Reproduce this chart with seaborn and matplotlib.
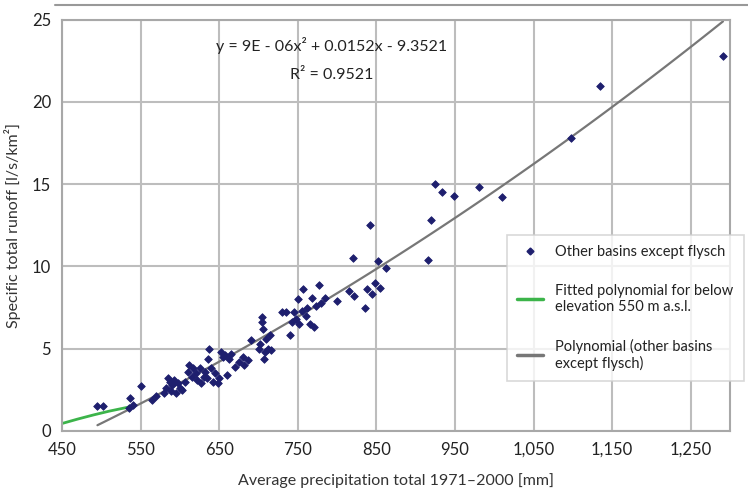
import numpy as np
import pandas as pd
import matplotlib.pyplot as plt
import seaborn as sns
from matplotlib.lines import Line2D

# Data

precip = [495, 502, 535, 537, 540, 550, 565, 570, 580, 582, 585, 587, 588, 590,
          592, 595, 597, 600, 603, 607, 610, 612, 615, 617, 620, 622, 625, 627,
          630, 632, 635, 636, 637, 640, 642, 645, 648, 650, 652, 655, 657, 660,
          662, 665, 670, 675, 680, 682, 686, 690, 700, 702, 704, 705, 706, 707,
          708, 710, 712, 715, 716, 730, 735, 740, 742, 745, 748, 750, 752, 755,
          757, 760, 762, 765, 768, 770, 773, 777, 780, 785, 800, 815, 820, 822,
          835, 838, 842, 845, 848, 852, 855, 862, 916, 919, 924, 933, 949, 980,
          1010, 1098, 1134, 1291]
runoff = [1.5, 1.5, 1.4, 2.0, 1.6, 2.7, 1.9, 2.1, 2.3, 2.6, 3.2, 3.0, 2.4, 2.8,
          3.1, 2.3, 2.9, 2.6, 2.5, 3.0, 3.6, 4.0, 3.3, 3.8, 3.5, 3.1, 3.8, 2.9,
          3.3, 3.6, 3.2, 4.4, 5.0, 3.8, 3.0, 3.5, 2.9, 3.2, 4.8, 4.5, 4.6, 3.4,
          4.4, 4.7, 3.9, 4.2, 4.5, 4.0, 4.3, 5.5, 5.0, 5.3, 6.6, 6.9, 6.2, 4.4,
          4.8, 5.6, 5.0, 5.8, 4.9, 7.2, 7.2, 5.8, 6.6, 7.2, 6.8, 8.0, 6.5, 7.3,
          8.6, 7.0, 7.5, 6.5, 8.1, 6.3, 7.6, 8.9, 7.8, 8.1, 7.9, 8.5, 10.5, 8.2,
          7.5, 8.6, 12.5, 8.3, 9.0, 10.3, 8.7, 9.9, 10.4, 12.8, 15.0, 14.5, 14.3, 14.8,
          14.2, 17.8, 21.0, 22.8]

# green curve (low elevation fit)
low_x = [450, 470, 490, 510, 535]
low_y = [0.45, 0.72, 0.97, 1.2, 1.45]

df = pd.DataFrame({"precip": precip, "runoff": runoff})
low = pd.DataFrame({"x": low_x, "y": low_y})

sns.set_style("white")
plt.rcParams["font.family"] = ["Lato", "DejaVu Sans"]

navy = "#1e1f6e"
green = "#3cb44a"
gray = "#777777"
gridc = "#bdbdbd"

fig = plt.figure(figsize=(7.48, 4.93), dpi=100)
ax = fig.add_axes([0.083, 0.126, 0.893, 0.834])

sns.lineplot(data=low, x="x", y="y", color=green, linewidth=2, ax=ax)
sns.regplot(data=df, x="precip", y="runoff", order=2, ci=None, scatter=False,
            line_kws={"color": gray, "linewidth": 1.6}, ax=ax)
sns.scatterplot(data=df, x="precip", y="runoff", color=navy, marker="D",
                s=15, edgecolor=navy, linewidth=0.6, ax=ax, zorder=3)

ax.set_xlim(450, 1300)
ax.set_ylim(0, 25)
ax.set_xticks([450, 550, 650, 750, 850, 950, 1050, 1150, 1250])
ax.set_xticklabels(["450", "550", "650", "750", "850", "950", "1,050", "1,150", "1,250"])
ax.set_yticks([0, 5, 10, 15, 20, 25])
ax.grid(True, color=gridc, linewidth=1.5)
ax.set_axisbelow(True)
for s in ax.spines.values():
    s.set_color("#a8a8a8")
    s.set_linewidth(1.5)
ax.tick_params(axis="both", length=5, width=1.2, color="#a8a8a8",
               labelsize=12, colors="#222222", pad=3)

ax.set_xlabel("Average precipitation total 1971\u20132000 [mm]", fontsize=11.5, color="#333333",
              labelpad=11)
ax.set_ylabel("Specific total runoff [l/s/km\u00b2]", fontsize=11.5, color="#333333",
              labelpad=8)

ax.text(0.404, 0.937, "y = 9E - 06x\u00b2 + 0.0152x - 9.3521", transform=ax.transAxes,
        ha="center", va="center", fontsize=11.5, color="#222222")
ax.text(0.404, 0.866, "R\u00b2 = 0.9521", transform=ax.transAxes,
        ha="center", va="center", fontsize=11.5, color="#222222")

handles = [
    Line2D([], [], linestyle="none", marker="D", color=navy, markersize=3.5),
    Line2D([], [], color=green, linewidth=2.5),
    Line2D([], [], color=gray, linewidth=2.5),
]
labels = ["Other basins except flysch",
          "Fitted polynomial for below\nelevation 550 m a.s.l.",
          "Polynomial (other basins\nexcept flysch)"]
leg = ax.legend(handles, labels, loc="upper left", bbox_to_anchor=(0.666, 0.477),
                fontsize=10.5, frameon=True, fancybox=False, labelspacing=1.7,
                handlelength=1.8, borderpad=0.7, handletextpad=0.8,
                borderaxespad=0)
leg.get_frame().set_edgecolor("#cfcfcf")
leg.get_frame().set_linewidth(1.2)
for t in leg.get_texts():
    t.set_color("#222222")

# thin rule across the top of the page
fig.add_artist(Line2D([0.073, 1.0], [0.99, 0.99], color="#999999", linewidth=1.5,
                      transform=fig.transFigure))

fig.savefig("out.png", dpi=100)
